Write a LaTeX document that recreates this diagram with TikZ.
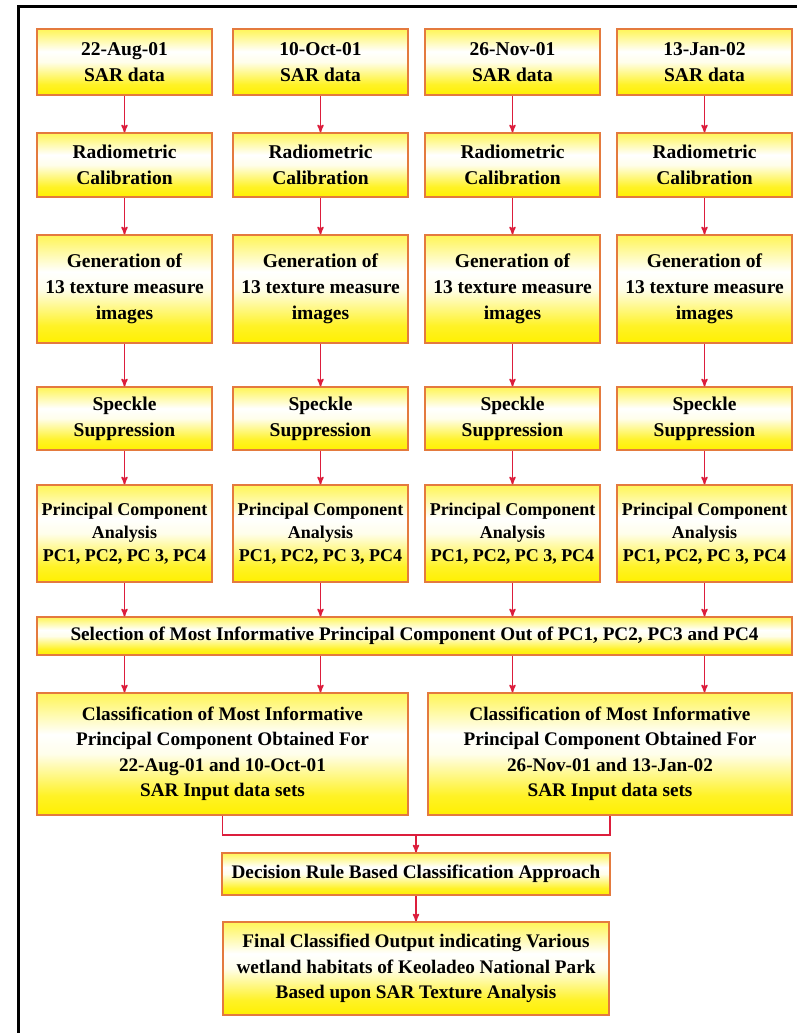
\documentclass[tikz,border=0pt]{standalone}
\usepackage{fontspec}
\setmainfont{Liberation Serif}
\usepackage{tikz}
\usetikzlibrary{arrows,shapes,backgrounds}

\definecolor{arrowred}{RGB}{220,30,60}
\definecolor{boxline}{RGB}{228,122,62}
\definecolor{boxyellow}{RGB}{255,240,0}
\pgfdeclareverticalshading{boxfill}{100bp}{color(0bp)=(boxyellow); color(25bp)=(boxyellow); color(33bp)=(boxyellow!85); color(50bp)=(boxyellow!8); color(58bp)=(white); color(72bp)=(boxyellow!55); color(75bp)=(boxyellow!65); color(100bp)=(boxyellow!65)}

\begin{document}
\begin{tikzpicture}[x=1pt,y=-1pt,>=stealth',auto]

  \tikzstyle{stage}=[rectangle,draw=boxline,line width=1.3pt,shade,shading=boxfill,align=center,inner sep=0pt,
                     minimum width=175pt,font=\bfseries\fontsize{19.5}{26}\selectfont]
  \tikzstyle{pca}=[stage,font=\bfseries\fontsize{18}{23}\selectfont]
  \tikzstyle{wide}=[stage,font=\bfseries\fontsize{19.2}{25.5}\selectfont]
  \tikzstyle{link}=[draw=arrowred,line width=1.6pt]
  \tikzstyle{into}=[link,<-]

  \useasboundingbox (0,0) rectangle (796,1033);
  \draw[line width=3pt,line cap=rect] (18,1033) -- (18,7) -- (796,7);

  % four dates, one column each
  \path  (124.5,62)    node[stage,minimum height=66pt]  (d1) {22-Aug-01\\SAR data}
         (124.5,165)   node[stage,minimum height=64pt]  (r1) {Radiometric\\Calibration} edge[into](d1)
         (124.5,289)   node[stage,minimum height=108pt] (g1) {Generation of\\13 texture measure\\images} edge[into](r1)
         (124.5,418.5) node[stage,minimum height=63pt]  (s1) {Speckle\\Suppression} edge[into](g1)
         (124.5,533.5) node[pca,minimum height=97pt]    (p1) {Principal Component\\Analysis\\PC1, PC2, PC 3, PC4} edge[into](s1);

  \path  (320.5,62)    node[stage,minimum height=66pt]  (d2) {10-Oct-01\\SAR data}
         (320.5,165)   node[stage,minimum height=64pt]  (r2) {Radiometric\\Calibration} edge[into](d2)
         (320.5,289)   node[stage,minimum height=108pt] (g2) {Generation of\\13 texture measure\\images} edge[into](r2)
         (320.5,418.5) node[stage,minimum height=63pt]  (s2) {Speckle\\Suppression} edge[into](g2)
         (320.5,533.5) node[pca,minimum height=97pt]    (p2) {Principal Component\\Analysis\\PC1, PC2, PC 3, PC4} edge[into](s2);

  \path  (512.5,62)    node[stage,minimum height=66pt]  (d3) {26-Nov-01\\SAR data}
         (512.5,165)   node[stage,minimum height=64pt]  (r3) {Radiometric\\Calibration} edge[into](d3)
         (512.5,289)   node[stage,minimum height=108pt] (g3) {Generation of\\13 texture measure\\images} edge[into](r3)
         (512.5,418.5) node[stage,minimum height=63pt]  (s3) {Speckle\\Suppression} edge[into](g3)
         (512.5,533.5) node[pca,minimum height=97pt]    (p3) {Principal Component\\Analysis\\PC1, PC2, PC 3, PC4} edge[into](s3);

  \path  (704.5,62)    node[stage,minimum height=66pt]  (d4) {13-Jan-02\\SAR data}
         (704.5,165)   node[stage,minimum height=64pt]  (r4) {Radiometric\\Calibration} edge[into](d4)
         (704.5,289)   node[stage,minimum height=108pt] (g4) {Generation of\\13 texture measure\\images} edge[into](r4)
         (704.5,418.5) node[stage,minimum height=63pt]  (s4) {Speckle\\Suppression} edge[into](g4)
         (704.5,533.5) node[pca,minimum height=97pt]    (p4) {Principal Component\\Analysis\\PC1, PC2, PC 3, PC4} edge[into](s4);

  % selection and the two classifications
  \node[wide,minimum width=755pt,minimum height=38pt] (sel) at (414.5,636)
        {Selection of Most Informative Principal Component Out of PC1, PC2, PC3 and PC4};
  \node[wide,minimum width=371pt,minimum height=122pt] (clL) at (222.5,754)
        {Classification of Most Informative\\Principal Component Obtained For\\22-Aug-01 and 10-Oct-01\\SAR Input data sets};
  \node[wide,minimum width=364pt,minimum height=122pt] (clR) at (610,754)
        {Classification of Most Informative\\Principal Component Obtained For\\26-Nov-01 and 13-Jan-02\\SAR Input data sets};

  \draw[link,->] (p1) -- (sel.north -| p1);
  \draw[link,->] (p2) -- (sel.north -| p2);
  \draw[link,->] (p3) -- (sel.north -| p3);
  \draw[link,->] (p4) -- (sel.north -| p4);
  \draw[link,->] (sel.south -| p1) -- (clL.north -| p1);
  \draw[link,->] (sel.south -| p2) -- (clL.north -| p2);
  \draw[link,->] (sel.south -| p3) -- (clR.north -| p3);
  \draw[link,->] (sel.south -| p4) -- (clR.north -| p4);

  % merge into the decision rule
  \coordinate (join) at (416,835);
  \node[wide,minimum width=388pt,minimum height=42pt] (dec) at (416,874)
        {Decision Rule Based Classification Approach};
  \node[wide,minimum width=386pt,minimum height=93pt] (out) at (416,968.5)
        {Final Classified Output indicating Various\\wetland habitats of Keoladeo National Park\\Based upon SAR Texture Analysis};

  \draw[link] (clL) |- (join) -| (clR);
  \path (dec) edge[into] (join)
        (out) edge[into] (dec);

\end{tikzpicture}
\end{document}
